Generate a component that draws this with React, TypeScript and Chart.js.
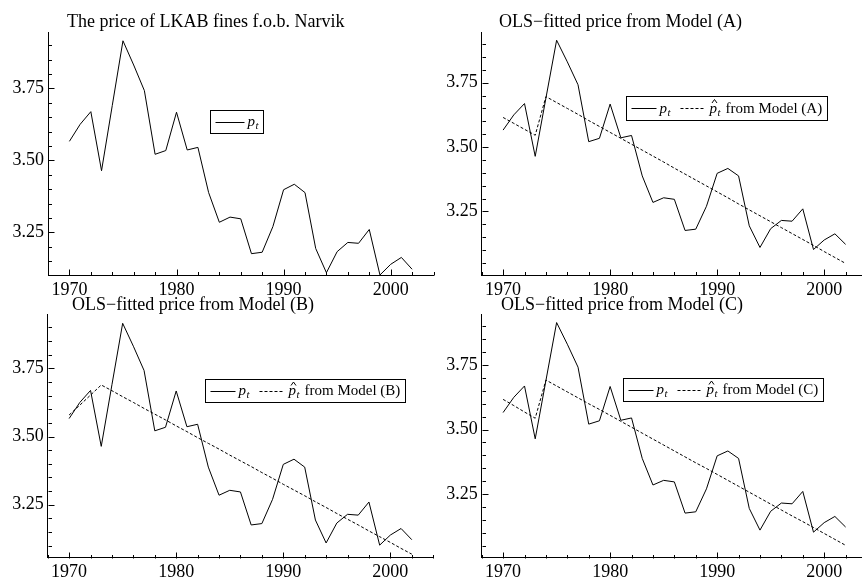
import { useEffect, useRef } from "react";
import { Chart, registerables } from "chart.js";
Chart.register(...registerables);

// ---------- data ----------
const years = [
  1970, 1971, 1972, 1973, 1974, 1975, 1976, 1977, 1978, 1979, 1980, 1981, 1982,
  1983, 1984, 1985, 1986, 1987, 1988, 1989, 1990, 1991, 1992, 1993, 1994, 1995,
  1996, 1997, 1998, 1999, 2000, 2001, 2002,
];
const price = [
  3.566, 3.625, 3.669, 3.464, 3.69, 3.915, 3.831, 3.742, 3.521, 3.534, 3.667,
  3.536, 3.545, 3.388, 3.285, 3.303, 3.297, 3.176, 3.181, 3.27, 3.398, 3.417,
  3.388, 3.194, 3.11, 3.183, 3.215, 3.212, 3.26, 3.102, 3.139, 3.163, 3.122,
];
const fittedA = [
  3.615, 3.592, 3.569, 3.546, 3.696, 3.673, 3.65, 3.627, 3.603, 3.58, 3.557,
  3.534, 3.511, 3.488, 3.465, 3.442, 3.418, 3.395, 3.372, 3.349, 3.326, 3.303,
  3.279, 3.256, 3.233, 3.21, 3.187, 3.164, 3.141, 3.118, 3.094, 3.071, 3.048,
];
const fittedB = [
  3.579, 3.615, 3.652, 3.689, 3.668, 3.646, 3.625, 3.603, 3.582, 3.561, 3.539,
  3.518, 3.496, 3.475, 3.454, 3.432, 3.411, 3.39, 3.368, 3.347, 3.325, 3.304,
  3.283, 3.261, 3.24, 3.218, 3.197, 3.176, 3.154, 3.133, 3.112, 3.09, 3.069,
];
const fittedC = [
  3.617, 3.593, 3.568, 3.544, 3.692, 3.669, 3.646, 3.623, 3.6, 3.578, 3.555,
  3.532, 3.509, 3.486, 3.463, 3.44, 3.417, 3.394, 3.371, 3.349, 3.326, 3.303,
  3.28, 3.257, 3.234, 3.211, 3.188, 3.165, 3.143, 3.12, 3.097, 3.074, 3.051,
];
const xMajorTicks = [1970, 1980, 1990, 2000];
const yMajorTicks = [3.25, 3.5, 3.75];
const titles = [
  "The price of LKAB fines f.o.b. Narvik",
  "OLS\u2212fitted price from Model (A)",
  "OLS\u2212fitted price from Model (B)",
  "OLS\u2212fitted price from Model (C)",
];
const seriesLabel = "p";
const seriesSub = "t";
const fittedLabels = ["", "from Model (A)", "from Model (B)", "from Model (C)"];

// ---------- layout ----------
const SERIF = '"Liberation Serif", "Times New Roman", serif';

type Panel = {
  key: string;
  left: number;
  top: number;
  w: number;
  h: number;
  area: { l: number; r: number; t: number; b: number };
  yMin: number;
  yMax: number;
  titleIdx: number;
  titleX: number;
  titleY: number;
  fitted: number[] | null;
  legend: { x: number; y: number; h: number };
};

const PANELS: Panel[] = [
  {
    key: "p1", left: 0, top: 0, w: 440, h: 300,
    area: { l: 48, r: 433.5, t: 32, b: 275 },
    yMin: 3.102, yMax: 3.9455, titleIdx: 0, titleX: 67, titleY: 27,
    fitted: null, legend: { x: 210, y: 110, h: 23 },
  },
  {
    key: "pA", left: 431, top: 0, w: 440, h: 300,
    area: { l: 50.7, r: 436.2, t: 32, b: 275 },
    yMin: 3.003, yMax: 3.947, titleIdx: 1, titleX: 68, titleY: 27,
    fitted: fittedA, legend: { x: 195, y: 96, h: 24 },
  },
  {
    key: "pB", left: 0, top: 291, w: 440, h: 292,
    area: { l: 47.7, r: 433.2, t: 23.3, b: 266.7 },
    yMin: 3.056, yMax: 3.948, titleIdx: 2, titleX: 72, titleY: 19,
    fitted: fittedB, legend: { x: 205, y: 88, h: 23 },
  },
  {
    key: "pC", left: 431, top: 291, w: 440, h: 292,
    area: { l: 50.7, r: 436.2, t: 23.3, b: 266.7 },
    yMin: 3.003, yMax: 3.947, titleIdx: 3, titleX: 70, titleY: 19,
    fitted: fittedC, legend: { x: 192, y: 87, h: 23 },
  },
];

const isIn = (arr: number[], v: number) => arr.some((m) => Math.abs(m - v) < 1e-6);

function drawLegend(ctx: CanvasRenderingContext2D, p: Panel) {
  const lg = p.legend;
  const size = 15;
  const cy = lg.y + lg.h / 2;
  const base = cy + 4.5;
  ctx.save();
  ctx.fillStyle = "#000";
  ctx.strokeStyle = "#000";
  ctx.lineWidth = 1;
  ctx.textBaseline = "alphabetic";
  ctx.textAlign = "left";
  let x = lg.x + 5.5;
  const sample = p.fitted ? 25 : 29;
  ctx.beginPath();
  ctx.moveTo(x, Math.round(cy) + 0.5);
  ctx.lineTo(x + sample, Math.round(cy) + 0.5);
  ctx.stroke();
  x += sample + 3;
  const drawP = (hat: boolean) => {
    ctx.font = `italic ${size}px ${SERIF}`;
    ctx.fillText(seriesLabel, x, base);
    const pw = ctx.measureText(seriesLabel).width;
    if (hat) {
      ctx.beginPath();
      ctx.moveTo(x + 2.5, base - 9.5);
      ctx.lineTo(x + 5, base - 13);
      ctx.lineTo(x + 7.5, base - 9.5);
      ctx.stroke();
    }
    x += pw + 0.5;
    ctx.font = `italic ${size * 0.72}px ${SERIF}`;
    ctx.fillText(seriesSub, x, base + 3);
    x += ctx.measureText(seriesSub).width;
  };
  drawP(false);
  if (p.fitted) {
    x += 10;
    ctx.save();
    ctx.setLineDash([3, 2]);
    ctx.beginPath();
    ctx.moveTo(x, Math.round(cy) + 0.5);
    ctx.lineTo(x + 25, Math.round(cy) + 0.5);
    ctx.stroke();
    ctx.restore();
    x += 29;
    drawP(true);
    x += 5;
    ctx.font = `${size}px ${SERIF}`;
    const label = fittedLabels[p.titleIdx];
    ctx.fillText(label, x, base);
    x += ctx.measureText(label).width;
  }
  x += 5;
  ctx.strokeRect(Math.round(lg.x) + 0.5, Math.round(lg.y) + 0.5, Math.round(x - lg.x), lg.h);
  ctx.restore();
}

function makeDecor(p: Panel) {
  return {
    id: "decor_" + p.key,
    afterDraw(chart: any) {
      const ctx = chart.ctx as CanvasRenderingContext2D;
      const xs = chart.scales.x;
      const ys = chart.scales.y;
      const ca = chart.chartArea;
      ctx.save();
      ctx.strokeStyle = "#000";
      ctx.lineWidth = 1;
      ctx.setLineDash([]);
      ctx.beginPath();
      const yb = Math.round(ca.bottom) + 0.5;
      for (const t of xs.ticks) {
        const px = Math.round(xs.getPixelForValue(t.value)) + 0.5;
        const len = isIn(xMajorTicks, t.value) ? 6 : 3.5;
        ctx.moveTo(px, yb);
        ctx.lineTo(px, yb - len);
      }
      const xl = Math.round(ca.left) + 0.5;
      for (const t of ys.ticks) {
        const py = Math.round(ys.getPixelForValue(t.value)) + 0.5;
        const len = isIn(yMajorTicks, t.value) ? 6 : 3.5;
        ctx.moveTo(xl, py);
        ctx.lineTo(xl + len, py);
      }
      ctx.stroke();
      ctx.fillStyle = "#000";
      ctx.font = `18px ${SERIF}`;
      ctx.textBaseline = "alphabetic";
      ctx.textAlign = "left";
      ctx.fillText(titles[p.titleIdx], p.titleX, p.titleY);
      ctx.restore();
      drawLegend(ctx, p);
    },
  };
}

function PanelChart({ p }: { p: Panel }) {
  const ref = useRef<HTMLCanvasElement | null>(null);
  useEffect(() => {
    if (!ref.current) return;
    const datasets: any[] = [
      {
        data: years.map((yr, i) => ({ x: yr, y: price[i] })),
        borderColor: "#000",
        borderWidth: 1,
        pointRadius: 0,
        tension: 0,
        fill: false,
      },
    ];
    if (p.fitted) {
      const f = p.fitted;
      datasets.push({
        data: years.map((yr, i) => ({ x: yr, y: f[i] })),
        borderColor: "#000",
        borderWidth: 1,
        borderDash: [3, 2],
        pointRadius: 0,
        tension: 0,
        fill: false,
      });
    }
    const tickFont = { family: SERIF, size: 18 };
    const chart = new Chart(ref.current, {
      type: "line",
      data: { datasets },
      options: {
        animation: false,
        responsive: false,
        maintainAspectRatio: false,
        devicePixelRatio: 1,
        layout: { padding: { left: 0, top: p.area.t, right: p.w - p.area.r, bottom: 0 } },
        plugins: {
          legend: { display: false },
          title: { display: false },
          tooltip: { enabled: false },
        },
        scales: {
          x: {
            type: "linear",
            min: 1968,
            max: 2004,
            afterFit: (s: any) => {
              s.height = p.h - p.area.b;
            },
            ticks: {
              stepSize: 2,
              autoSkip: false,
              maxRotation: 0,
              color: "#000",
              font: tickFont,
              padding: 4,
              callback: (v: any) => (isIn(xMajorTicks, Number(v)) ? String(v) : ""),
            },
            grid: { display: true, drawOnChartArea: false, drawTicks: false },
            border: { display: true, color: "#000", width: 1 },
          },
          y: {
            type: "linear",
            min: p.yMin,
            max: p.yMax,
            afterFit: (s: any) => {
              s.width = p.area.l;
            },
            ticks: {
              stepSize: 0.05,
              includeBounds: false,
              autoSkip: false,
              color: "#000",
              font: tickFont,
              padding: 4,
              callback: (v: any) =>
                isIn(yMajorTicks, Number(v)) ? Number(v).toFixed(2) : "",
            },
            grid: { display: true, drawOnChartArea: false, drawTicks: false },
            border: { display: true, color: "#000", width: 1 },
          },
        },
      } as any,
      plugins: [makeDecor(p)],
    });
    return () => chart.destroy();
  }, [p]);
  return (
    <canvas
      ref={ref}
      width={p.w}
      height={p.h}
      style={{
        position: "absolute",
        left: p.left,
        top: p.top,
        width: p.w,
        height: p.h,
      }}
    />
  );
}

export default function App() {
  return (
    <div
      style={{
        position: "absolute",
        left: 0,
        top: 0,
        width: 862,
        height: 583,
        overflow: "hidden",
        background: "#fff",
      }}
    >
      {PANELS.map((p) => (
        <PanelChart key={p.key} p={p} />
      ))}
    </div>
  );
}
